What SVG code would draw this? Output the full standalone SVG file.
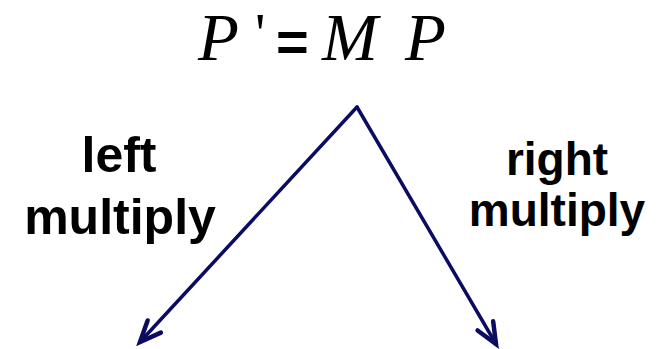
<svg xmlns="http://www.w3.org/2000/svg" width="662" height="349" viewBox="0 0 662 349">
<style>
.eq{font-family:"Liberation Serif","Times New Roman",serif;font-style:italic;font-size:67px;fill:#000}
.eqr{font-family:"Liberation Serif","Times New Roman",serif;font-size:58px;fill:#000}
.eqs{font-family:"Liberation Sans",Arial,sans-serif;font-weight:bold;font-size:56px;fill:#000}
.lbl{font-family:"Liberation Sans",Arial,sans-serif;font-weight:bold;fill:#000;text-anchor:middle}
.conn{stroke:#0b0b62;stroke-width:3.5;fill:none;stroke-linecap:round}
</style>
<defs>
<marker id="ah" markerUnits="userSpaceOnUse" markerWidth="40" markerHeight="40" refX="0" refY="0" viewBox="-30 -20 40 40" orient="auto" overflow="visible">
<path d="M-21,-9 L0,0 L-21,9" fill="none" stroke="#0b0b62" stroke-width="4.5" stroke-linecap="round" stroke-linejoin="miter"/>
</marker>
</defs>
<g id="equation">
<text class="eq" x="198" y="60">P</text>
<text class="eqr" x="255" y="53">'</text>
<text class="eqs" x="276" y="61">=</text>
<text class="eq" x="322" y="60">M</text>
<text class="eq" x="405" y="60">P</text>
</g>
<g id="left-label">
<text class="lbl" font-size="50" x="119" y="172">left</text>
<text class="lbl" font-size="50" x="120" y="234">multiply</text>
</g>
<g id="right-label">
<text class="lbl" font-size="46" x="557" y="175">right</text>
<text class="lbl" font-size="46" x="557" y="226">multiply</text>
</g>
<g id="connectors">
<line class="conn" x1="357" y1="107" x2="140" y2="342" marker-end="url(#ah)"/>
<line class="conn" x1="357" y1="107" x2="496" y2="344" marker-end="url(#ah)"/>
</g>
</svg>
